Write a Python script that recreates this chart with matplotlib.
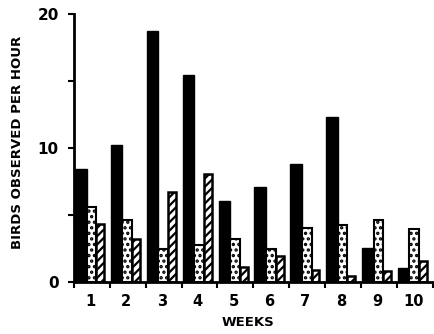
import matplotlib
matplotlib.use("Agg")
import matplotlib.pyplot as plt
import numpy as np

weeks = ["1", "2", "3", "4", "5", "6", "7", "8", "9", "10"]
solid = [8.4, 10.2, 18.7, 15.4, 6.0, 7.1, 8.8, 12.3, 2.5, 1.0]
dotted = [5.6, 4.6, 2.4, 2.75, 3.2, 2.4, 4.0, 4.2, 4.6, 3.9]
hatched = [4.3, 3.2, 6.7, 8.05, 1.1, 1.9, 0.9, 0.4, 0.8, 1.5]

plt.rcParams["hatch.linewidth"] = 1.6
plt.rcParams["font.family"] = ["DejaVu Sans"]

fig = plt.figure(figsize=(4.35, 3.34), dpi=100)
ax = fig.add_axes([0.170, 0.157, 0.825, 0.8015])

x = np.arange(len(weeks))
ax.bar(x + 0.03, solid, width=0.32, align="edge", color="black", edgecolor="black", linewidth=1)
ax.bar(x + 0.35, dotted, width=0.27, align="edge", color="white", edgecolor="black",
       hatch="...", linewidth=1.5)
ax.bar(x + 0.62, hatched, width=0.22, align="edge", color="white", edgecolor="black",
       hatch="////", linewidth=1.8)

ax.set_xlim(0, 10)
ax.set_ylim(0, 20)
for s in ["top", "right"]:
    ax.spines[s].set_visible(False)
for s in ["left", "bottom"]:
    ax.spines[s].set_linewidth(2)

ax.set_yticks([0, 5, 10, 15, 20])
ax.set_yticklabels(["0", "", "10", "", "20"], fontsize=11, fontweight="bold")
ax.set_xticks(np.arange(11))
ax.set_xticklabels([])
ax.set_xticks(x + 0.45, minor=True)
ax.set_xticklabels(weeks, minor=True, fontsize=10.5, fontweight="bold")
ax.tick_params(axis="both", which="major", direction="out", length=4, width=1.5)
ax.tick_params(axis="x", which="minor", length=0, pad=9)
ax.tick_params(axis="y", pad=7)

ax.set_xlabel("WEEKS", fontsize=9.5, fontweight="bold")
ax.xaxis.set_label_coords(0.485, -0.13)
ax.set_ylabel("BIRDS OBSERVED PER HOUR", fontsize=9.5, fontweight="bold")
ax.yaxis.set_label_coords(-0.14, 0.52)

fig.savefig("out.png", dpi=100)
